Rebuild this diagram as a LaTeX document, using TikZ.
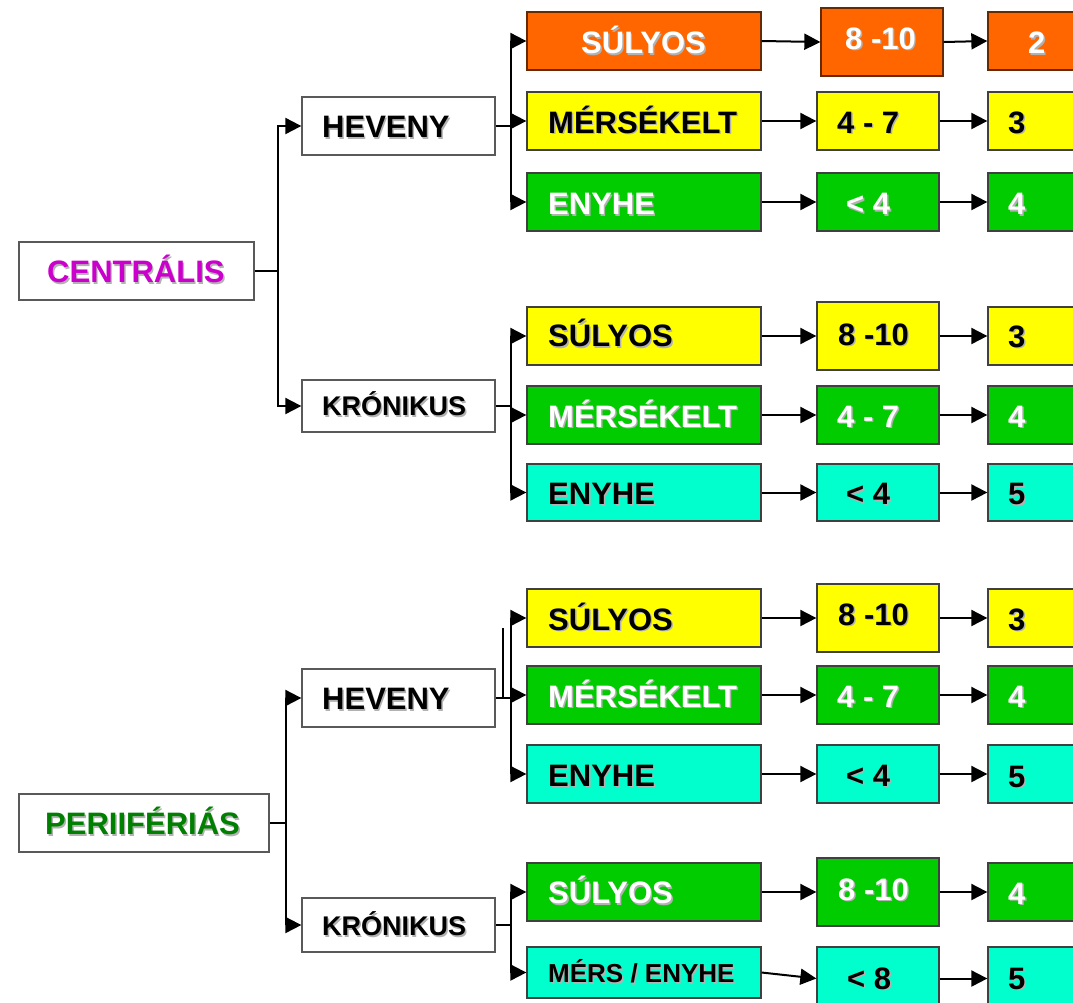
\documentclass[tikz,border=0pt]{standalone}
\usepackage{fontspec}
\setmainfont{Liberation Sans}
\usetikzlibrary{arrows.meta}

\definecolor{cOrange}{HTML}{FF6600}
\definecolor{cYellow}{HTML}{FFFF00}
\definecolor{cGreen}{HTML}{00CC00}
\definecolor{cCyan}{HTML}{00FFCC}
\definecolor{cMag}{HTML}{CC00CC}
\definecolor{cDkGreen}{HTML}{008000}

% text with a soft drop shadow
\newcommand\shd[1]{\leavevmode\rlap{\kern1.4pt\raisebox{-1.4pt}{\color{black!30}#1}}#1}

% \cell{name}{x1}{y1}{x2}{y2}{kind}{text position}{text}
\newcommand\cell[8]{%
  \pgfmathsetmacro\cw{#4-#2}%
  \pgfmathsetmacro\ch{#5-#3}%
  \node[#6 box, minimum width=\cw pt, minimum height=\ch pt] (#1) at ({(#2+#4)/2},{(#3+#5)/2}) {};
  \node[#6 text] (#1-t) at (#7) {\shd{#8}};
}

\tikzset{
  box/.style={rectangle, draw=black!75, line width=1.3pt, inner sep=0pt},
  lbl/.style={inner sep=0pt, anchor=west, font=\bfseries\fontsize{31}{31}\selectfont,
              text height=22.2pt, text depth=0pt},
  conn/.style={line width=2pt, black},
  arr/.style={conn, -{Triangle[length=16pt,width=16pt]}},
  o box/.style={box, fill=cOrange, draw=black!60!cOrange}, o text/.style={lbl, text=white},
  y box/.style={box, fill=cYellow}, y text/.style={lbl, text=black},
  g box/.style={box, fill=cGreen},  g text/.style={lbl, text=white},
  c box/.style={box, fill=cCyan},   c text/.style={lbl, text=black},
  w box/.style={box, fill=white, draw=black!65}, w text/.style={lbl, text=black},
  m box/.style={w box}, m text/.style={lbl, text=cMag},
  p box/.style={w box}, p text/.style={lbl, text=cDkGreen},
}

\begin{document}
\begin{tikzpicture}[x=1pt, y=-1pt]
\useasboundingbox (0,0) rectangle (1073,1002);
\clip (0,0) rectangle (1073,1002);

% ---- left column ----
\cell{cen}{19}{242}{254}{300}{m}{47,271.5}{CENTRÁLIS}
\cell{h1}{302}{97}{495}{155}{w}{322,126.7}{HEVENY}
\cell{k1}{302}{380}{495}{432}{w}{322,404.5}{\fontsize{27}{27}\selectfont KRÓNIKUS}
\cell{per}{19}{794}{269}{852}{p}{45,823.5}{PERIIFÉRIÁS}
\cell{h2}{302}{669}{495}{727}{w}{322,698.5}{HEVENY}
\cell{k2}{302}{898}{495}{952}{w}{322,924.5}{\fontsize{27}{27}\selectfont KRÓNIKUS}

% ---- centrális / heveny ----
\cell{a1}{527}{12}{761}{70}{o}{581,42.5}{SÚLYOS}
\cell{a1n}{821}{8}{943}{76}{o}{845,38}{8 -10}
\cell{a1r}{988}{12}{1090}{70}{o}{1028,42.5}{2}
\cell{a2}{527}{92}{761}{150}{y}{548,122}{MÉRSÉKELT}
\cell{a2n}{817}{92}{939}{150}{y}{837,122}{4 - 7}
\cell{a2r}{988}{92}{1090}{150}{y}{1008,122}{3}
\cell{a3}{527}{173}{761}{231}{g}{548,203.5}{ENYHE}
\cell{a3n}{817}{173}{939}{231}{g}{846,203.5}{< 4}
\cell{a3r}{988}{173}{1090}{231}{g}{1008,203.5}{4}

% ---- centrális / krónikus ----
\cell{b1}{527}{307}{761}{365}{y}{548,335.5}{SÚLYOS}
\cell{b1n}{817}{302}{939}{370}{y}{838,334}{8 -10}
\cell{b1r}{988}{307}{1090}{365}{y}{1008,336}{3}
\cell{b2}{527}{386}{761}{444}{g}{548,416}{MÉRSÉKELT}
\cell{b2n}{817}{386}{939}{444}{g}{837,416}{4 - 7}
\cell{b2r}{988}{386}{1090}{444}{g}{1008,416}{4}
\cell{b3}{527}{464}{761}{521}{c}{548,493.5}{ENYHE}
\cell{b3n}{817}{464}{939}{521}{c}{846,493.5}{< 4}
\cell{b3r}{988}{464}{1090}{521}{c}{1008,493.5}{5}

% ---- perifériás / heveny ----
\cell{c1}{527}{589}{761}{647}{y}{548,619}{SÚLYOS}
\cell{c1n}{817}{584}{939}{652}{y}{838,614}{8 -10}
\cell{c1r}{988}{589}{1090}{647}{y}{1008,619}{3}
\cell{c2}{527}{666}{761}{724}{g}{548,696}{MÉRSÉKELT}
\cell{c2n}{817}{666}{939}{724}{g}{837,696}{4 - 7}
\cell{c2r}{988}{666}{1090}{724}{g}{1008,696}{4}
\cell{c3}{527}{745}{761}{803}{c}{548,775}{ENYHE}
\cell{c3n}{817}{745}{939}{803}{c}{846,775}{< 4}
\cell{c3r}{988}{745}{1090}{803}{c}{1008,776}{5}

% ---- perifériás / krónikus ----
\cell{d1}{527}{863}{761}{921}{g}{548,892.5}{SÚLYOS}
\cell{d1n}{817}{858}{939}{926}{g}{838,889}{8 -10}
\cell{d1r}{988}{863}{1090}{921}{g}{1008,893}{4}
\cell{d2}{527}{947}{761}{998}{c}{548,971.8}{\fontsize{26}{26}\selectfont MÉRS / ENYHE}
\cell{d2n}{817}{947}{939}{1010}{c}{847,978}{< 8}
\cell{d2r}{988}{947}{1090}{1010}{c}{1008,978}{5}

% ---- junctions ----
\coordinate (j1) at (278,271);
\coordinate (j2) at (511,126);
\coordinate (j3) at (511,406);
\coordinate (j4) at (286,823);
\coordinate (j5) at (511,698);
\coordinate (j6) at (511,925);
\coordinate (stray) at (503,628);

% ---- tree connectors ----
\draw[conn] (cen.east) -- (j1);
\draw[arr] (j1) |- (h1.west);
\draw[arr] (j1) |- (k1.west);

\draw[conn] (h1.east) -- (j2);
\draw[arr] (j2) |- (a1.west);
\draw[arr] (j2) |- (a2.west);
\draw[arr] (j2) |- (a3.west);

\draw[conn] (k1.east) -- (j3);
\draw[arr] (j3) |- (b1.west);
\draw[arr] (j3) |- (b2.west);
\draw[arr] (j3) |- (b3.west);

\draw[conn] (per.east) -- (j4);
\draw[arr] (j4) |- (h2.west);
\draw[arr] (j4) |- (k2.west);

\draw[conn] (h2.east) -- (j5);
\draw[conn, line width=1.6pt] (stray) |- (j5);
\draw[arr] (j5) |- (c1.west);
\draw[arr] (j5) |- (c2.west);
\draw[arr] (j5) |- (c3.west);

\draw[conn] (k2.east) -- (j6);
\draw[arr] (j6) |- (d1.west);
\draw[arr] (j6) |- (d2.west);

% ---- row connectors ----
\foreach \r in {a1,a2,a3,b1,b2,b3,c1,c2,c3,d1,d2}{
  \draw[arr] (\r.east) -- (\r n.west);
  \draw[arr] (\r n.east) -- (\r r.west);
}
\end{tikzpicture}
\end{document}
